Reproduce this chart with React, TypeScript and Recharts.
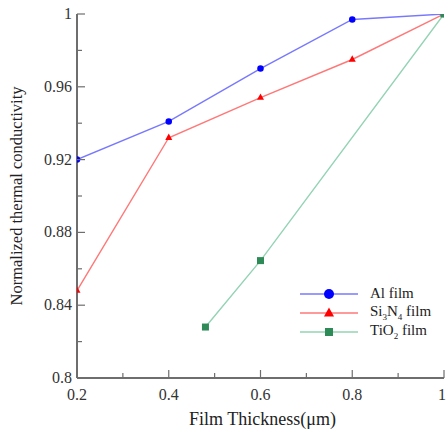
import { LineChart, Line, XAxis, YAxis, Legend } from "recharts";

const thickness = [0.2, 0.4, 0.6, 0.8, 1];
const alFilm = [0.92, 0.941, 0.97, 0.997, 1];
const si3n4Film = [0.848, 0.932, 0.954, 0.975, 1];
const tio2Thickness = [0.48, 0.6, 1];
const tio2Film = [0.828, 0.8645, 1];

const xTicks = [0.2, 0.3, 0.4, 0.5, 0.6, 0.7, 0.8, 0.9, 1];
const xMajor = [0.2, 0.4, 0.6, 0.8, 1];
const yTicks = [0.8, 0.82, 0.84, 0.86, 0.88, 0.9, 0.92, 0.94, 0.96, 0.98, 1];
const yMajor = [0.8, 0.84, 0.88, 0.92, 0.96, 1];

const font = "'Liberation Serif', 'Times New Roman', serif";
const axisColor = "#6e6e6e";

const alData = thickness.map((x, i) => ({ x, y: alFilm[i] }));
const siData = thickness.map((x, i) => ({ x, y: si3n4Film[i] }));
const tiData = tio2Thickness.map((x, i) => ({ x, y: tio2Film[i] }));

const series = [
  { key: "al", name: "Al film", sub: null, data: alData, line: "#7878ff", mark: "#0000ff", shape: "circle" },
  { key: "si", name: "Si3N4 film", sub: ["Si", "3", "N", "4", " film"], data: siData, line: "#ff7878", mark: "#ff0000", shape: "triangle" },
  { key: "ti", name: "TiO2 film", sub: ["TiO", "2", " film"], data: tiData, line: "#94d3b4", mark: "#2e8b57", shape: "square" },
];

const fmt = (v: number) => (v === 1 ? "1" : String(v));

const isMajor = (list: number[], v: number) => list.some((m) => Math.abs(m - v) < 1e-6);

const XTick = (props: any) => {
  const { x, y, payload } = props;
  const major = isMajor(xMajor, payload.value);
  const last = payload.value === 1;
  return (
    <g>
      <line x1={x} x2={x} y1={y} y2={y - (major ? 8 : 5)} stroke={axisColor} strokeWidth={1.2} />
      {major && (
        <text x={last ? x + 2 : x} y={y + 22} textAnchor={last ? "end" : "middle"} fontSize={16} fontFamily={font} fill="#333">
          {fmt(payload.value)}
        </text>
      )}
    </g>
  );
};

const YTick = (props: any) => {
  const { x, y, payload } = props;
  const major = isMajor(yMajor, payload.value);
  return (
    <g>
      <line x1={x} x2={x + (major ? 8 : 5)} y1={y} y2={y} stroke={axisColor} strokeWidth={1.2} />
      {major && (
        <text x={x - 5} y={y + 5} textAnchor="end" fontSize={16} fontFamily={font} fill="#333">
          {fmt(payload.value)}
        </text>
      )}
    </g>
  );
};

const Marker = ({ cx, cy, shape, color, size }: any) => {
  if (cx == null || cy == null) return null;
  if (shape === "circle") return <circle cx={cx} cy={cy} r={size / 2} fill={color} />;
  if (shape === "square")
    return <rect x={cx - size / 2} y={cy - size / 2} width={size} height={size} fill={color} />;
  const h = size * 0.9;
  return (
    <polygon
      points={`${cx},${cy - h / 2 - 1} ${cx - size / 2},${cy + h / 2 - 1} ${cx + size / 2},${cy + h / 2 - 1}`}
      fill={color}
    />
  );
};

const LegendBox = () => (
  <div style={{ fontFamily: font, fontSize: 15, color: "#222" }}>
    {series.map((s) => (
      <div key={s.key} style={{ display: "flex", alignItems: "center", height: 19 }}>
        <svg width={62} height={19}>
          <line x1={2} x2={60} y1={10} y2={10} stroke={s.line} strokeWidth={1.5} />
          <Marker cx={31} cy={10} shape={s.shape} color={s.mark} size={s.shape === "square" ? 8 : 10} />
        </svg>
        <span style={{ marginLeft: 10, whiteSpace: "nowrap" }}>
          {s.sub
            ? s.sub.map((t, i) =>
                i % 2 === 1 && /\d/.test(t) ? (
                  <sub key={i} style={{ fontSize: 9 }}>{t}</sub>
                ) : (
                  <span key={i}>{t}</span>
                )
              )
            : s.name}
        </span>
      </div>
    ))}
  </div>
);

export default function App() {
  return (
    <div style={{ position: "absolute", left: 0, top: 0, width: 446, height: 430, background: "#fff" }}>
      <LineChart width={446} height={430} margin={{ top: 14, right: 2, bottom: 0, left: 0 }}>
        <XAxis
          xAxisId="b"
          dataKey="x"
          type="number"
          domain={[0.2, 1]}
          ticks={xTicks}
          interval={0}
          tickSize={0}
          tickMargin={0}
          tick={<XTick />}
          height={52}
          axisLine={{ stroke: axisColor, strokeWidth: 2 }}
          tickLine={false}
          allowDataOverflow
          label={(p: any) => {
            const vb = p.viewBox || { x: 77, y: 378, width: 367 };
            return (
              <text x={vb.x + vb.width / 2 + 2} y={vb.y + 47} textAnchor="middle" fontSize={18} fontFamily={font} fill="#222">
                Film Thickness(μm)
              </text>
            );
          }}
        />
        <XAxis xAxisId="t" orientation="top" type="number" domain={[0.2, 1]} height={0} tick={false} tickLine={false} axisLine={{ stroke: axisColor, strokeWidth: 2 }} />
        <YAxis
          yAxisId="l"
          type="number"
          domain={[0.8, 1]}
          ticks={yTicks}
          interval={0}
          tickSize={0}
          tickMargin={0}
          tick={<YTick />}
          width={77}
          axisLine={{ stroke: axisColor, strokeWidth: 2 }}
          tickLine={false}
          allowDataOverflow
          label={(p: any) => {
            const vb = p.viewBox || { x: 0, y: 14, height: 364 };
            const cx = 22;
            const cy = vb.y + vb.height / 2;
            return (
              <text x={cx} y={cy} textAnchor="middle" fontSize={16.5} fontFamily={font} fill="#222" transform={`rotate(-90 ${cx} ${cy})`}>
                Normalized thermal conductivity
              </text>
            );
          }}
        />
        <YAxis yAxisId="r" orientation="right" type="number" domain={[0.8, 1]} width={0} tick={false} tickLine={false} axisLine={{ stroke: axisColor, strokeWidth: 2 }} />
        <Legend
          layout="horizontal"
          verticalAlign="middle"
          align="center"
          content={<LegendBox />}
          wrapperStyle={{ position: "absolute", left: 298, top: 284, width: 148 }}
        />
        {series.map((s) => (
          <Line
            key={s.key}
            xAxisId="b"
            yAxisId="l"
            data={s.data}
            dataKey="y"
            name={s.name}
            stroke={s.line}
            strokeWidth={1.4}
            isAnimationActive={false}
            dot={(p: any) => (
              <Marker key={`${s.key}-${p.index}`} cx={p.cx} cy={p.cy} shape={s.shape} color={s.mark} size={s.shape === "circle" ? 6.5 : 7} />
            )}
            activeDot={false}
          />
        ))}
      </LineChart>
    </div>
  );
}
